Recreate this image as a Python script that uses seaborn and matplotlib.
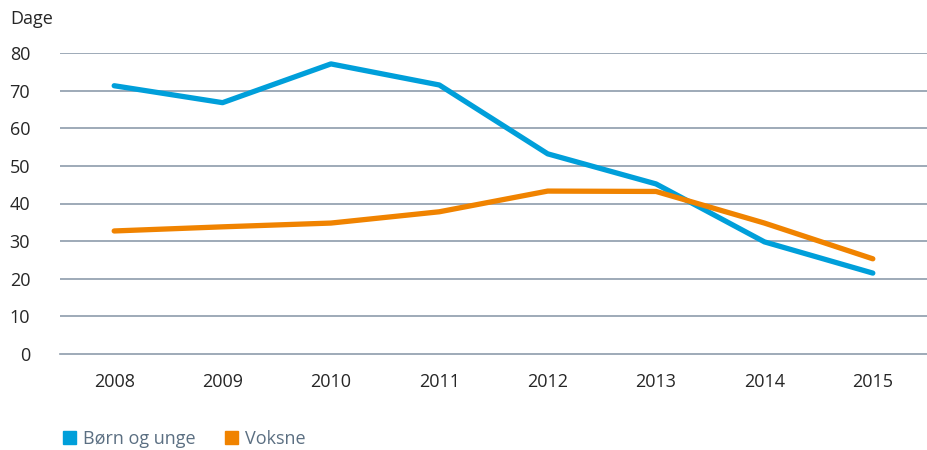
import pandas as pd
import seaborn as sns
import matplotlib.pyplot as plt
from matplotlib.patches import Patch

years = ['2008', '2009', '2010', '2011', '2012', '2013', '2014', '2015']
boern = [71.3, 66.8, 77.1, 71.5, 53.2, 45.2, 29.8, 21.5]
voksne = [32.7, 33.8, 34.8, 37.8, 43.3, 43.2, 34.8, 25.3]
series = ['Børn og unge', 'Voksne']
colors = ['#009fda', '#f08300']

df = pd.DataFrame({'År': years * 2,
                   'Dage': boern + voksne,
                   'Gruppe': [series[0]] * len(years) + [series[1]] * len(years)})

sns.set_style('white')
plt.rcParams['font.family'] = ['Open Sans', 'DejaVu Sans']

fig = plt.figure(figsize=(9.27, 4.5), dpi=100)
ax = fig.add_axes([60 / 927, 96 / 450, 1 - 60 / 927, (354 - 53) / 450])

sns.lineplot(data=df, x='År', y='Dage', hue='Gruppe', palette=colors,
             linewidth=3.8, ax=ax, legend=False, solid_capstyle='round')

grid_col = '#8e9cab'
ax.set_ylim(0, 80)
ax.set_xlim(-0.5, 7.43)
ax.set_yticks(range(0, 81, 10))
for v in range(10, 81, 10):
    ax.axhline(v, color=grid_col, lw=1.2, zorder=0)

for s in ['top', 'right', 'left']:
    ax.spines[s].set_visible(False)
ax.spines['bottom'].set_color(grid_col)
ax.spines['bottom'].set_linewidth(1.2)

# ticks between the years, labels centred on the years
ax.set_xticks([i - 0.5 for i in range(len(years) + 1)], minor=False)
ax.set_xticklabels([])
ax.set_xticks(range(len(years)), minor=True)
ax.set_xticklabels(years, minor=True, fontsize=13)
ax.tick_params(axis='x', which='major', length=7, width=1.2, color=grid_col, direction='out')
ax.tick_params(axis='x', which='minor', length=0, pad=14)
ax.tick_params(axis='y', length=0, pad=21.5, labelsize=13)
ax.set_xlabel('')
ax.set_ylabel('')

fig.text(10 / 927, 1 - 19 / 450, 'Dage', fontsize=13, va='center', ha='left')

handles = [Patch(color=c, label=l) for c, l in zip(colors, series)]
leg = fig.legend(handles=handles, loc='center left', bbox_to_anchor=(47 / 927, 1 - 439 / 450),
                 ncol=2, frameon=False, fontsize=13, handlelength=0.72, handleheight=0.72,
                 handletextpad=0.4, columnspacing=1.6)
for t in leg.get_texts():
    t.set_color('#5b6f82')

plt.savefig('out.png', dpi=100)
